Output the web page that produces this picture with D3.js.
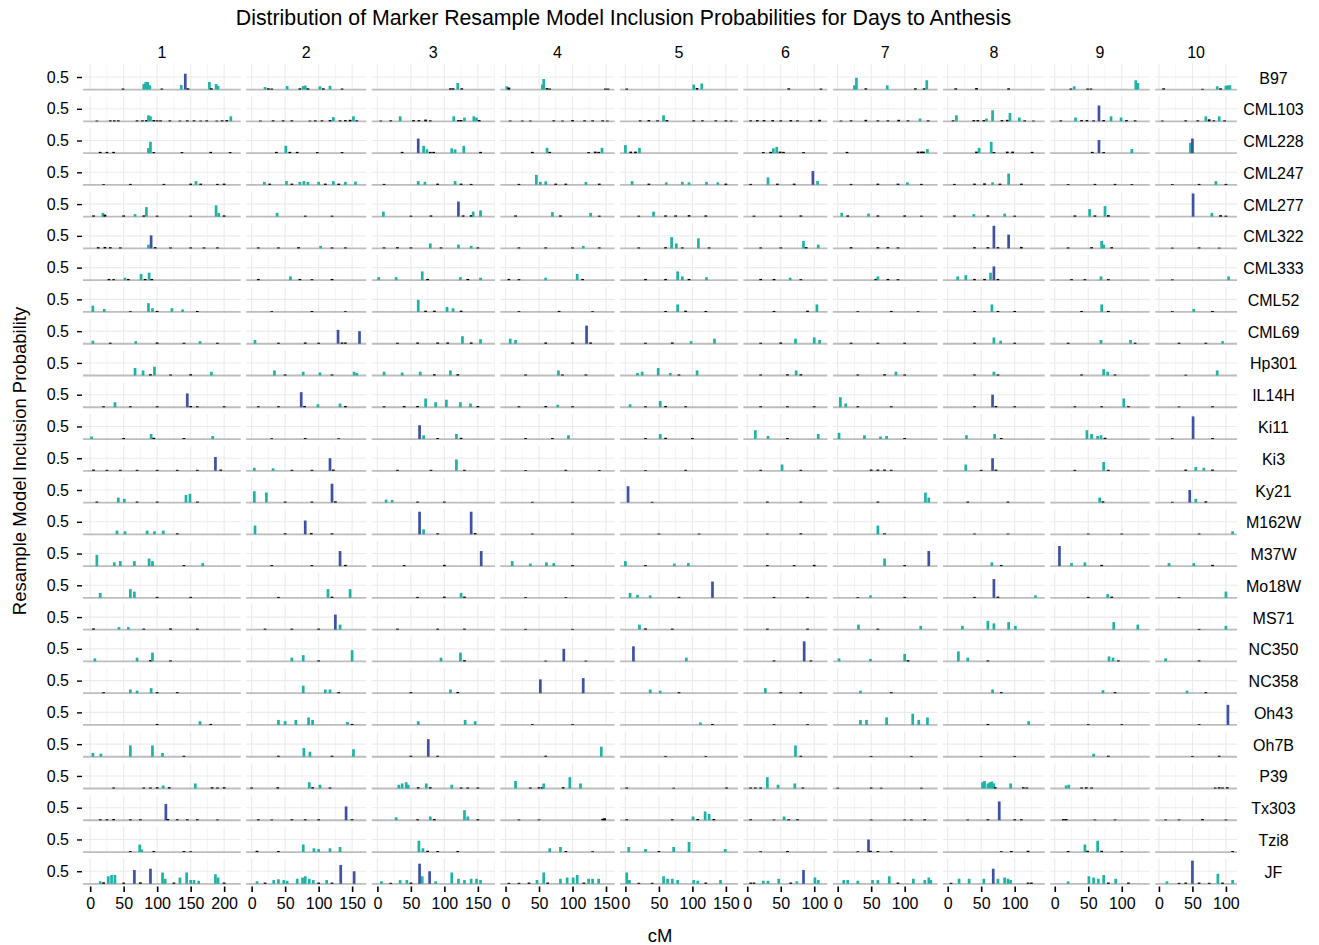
<!DOCTYPE html>
<html>
<head>
<meta charset="utf-8">
<script src="https://cdn.jsdelivr.net/npm/d3@7"></script>
<style>
  body { margin: 0; background: #fff; }
  text { font-family: "Liberation Sans", Arial, Helvetica, sans-serif; fill: #000; }
</style>
</head>
<body>
<svg id="chart" width="1319" height="945"></svg>
<script>
// Chromosomes (facet columns) and their genetic map lengths in cM
const chromosomes = ["1", "2", "3", "4", "5", "6", "7", "8", "9", "10"];
const chromosomeLengths = [214, 163, 167, 155, 160, 114, 142, 138, 135, 111];

// Founder lines (facet rows)
const founders = ["B97", "CML103", "CML228", "CML247", "CML277", "CML322", "CML333", "CML52", "CML69",
  "Hp301", "IL14H", "Ki11", "Ki3", "Ky21", "M162W", "M37W", "Mo18W", "MS71", "NC350", "NC358",
  "Oh43", "Oh7B", "P39", "Tx303", "Tzi8", "JF"];

const xTickValues = [0, 50, 100, 150, 200];
const yTickValues = [0.5];

// Resample model inclusion probability per marker: one list per chromosome of [cM, probability]
const B97 = [
  [[49,.04],[80,.22],[83,.3],[86,.3],[89,.17],[107,.04],[136,.18],[142,.63],[146,.05],[178,.3],[181,.05],[188,.22],[191,.15]],
  [[20,.1],[25,.05],[30,.04],[53,.14],[72,.05],[77,.14],[80,.16],[84,.05],[102,.13],[107,.05],[117,.15],[135,.04]],
  [[109,.05],[113,.05],[120,.26],[126,.05]],
  [[2,.13],[5,.08],[55,.2],[57,.42],[62,.06],[66,.04],[149,.04],[153,.04]],
  [[2,.04],[102,.2],[107,.06],[114,.24]],
  [[62,.05],[110,.04]],
  [[25,.17],[28,.47],[42,.05],[74,.17],[116,.05],[129,.05],[133,.37]],
  [[12,.05],[43,.06],[91,.05]],
  [[24,.04],[29,.13],[49,.04],[54,.04],[121,.37],[124,.26]],
  [[7,.05],[65,.03],[87,.13],[92,.05],[100,.15],[103,.17],[106,.17]]
];
const CML103 = [
  [[10,.03],[30,.04],[36,.04],[42,.04],[70,.04],[78,.04],[84,.05],[87,.24],[90,.2],[95,.05],[100,.04],[105,.04],[119,.04],[134,.03],[145,.04],[155,.04],[165,.03],[174,.04],[189,.03],[197,.04],[204,.05],[210,.2]],
  [[13,.03],[32,.04],[47,.04],[60,.04],[87,.03],[95,.04],[105,.04],[117,.05],[122,.17],[132,.04],[140,.05],[147,.06],[152,.2],[157,.04]],
  [[5,.03],[20,.04],[34,.2],[54,.05],[62,.05],[72,.07],[79,.04],[114,.2],[121,.05],[125,.05],[130,.15],[144,.2],[148,.15],[152,.05]],
  [[7,.03],[25,.03],[37,.03],[72,.04],[85,.03],[100,.05],[118,.04],[130,.04],[145,.04],[152,.03]],
  [[22,.04],[35,.05],[48,.04],[57,.24],[62,.05],[102,.04],[115,.04],[135,.04],[150,.04],[158,.03]],
  [[5,.04],[15,.05],[25,.05],[38,.05],[50,.04],[65,.05],[75,.04],[95,.04],[108,.06]],
  [[5,.03],[20,.04],[42,.06],[60,.04],[75,.04],[91,.06],[105,.04],[123,.11],[135,.04]],
  [[8,.04],[13,.24],[39,.05],[45,.05],[54,.05],[58,.11],[67,.44],[81,.05],[89,.06],[93,.33],[107,.15],[115,.04],[128,.03]],
  [[9,.04],[31,.15],[40,.05],[48,.05],[58,.04],[66,.63],[73,.05],[84,.2],[99,.15],[107,.05],[120,.04]],
  [[5,.03],[40,.04],[58,.04],[70,.2],[75,.08],[82,.04],[90,.2],[98,.04]]
];
const CML228 = [
  [[15,.05],[25,.05],[35,.05],[87,.2],[90,.45],[95,.04],[137,.04],[180,.05],[209,.04]],
  [[37,.05],[51,.29],[57,.05],[68,.05],[98,.04],[135,.04]],
  [[37,.05],[61,.58],[69,.29],[74,.15],[79,.05],[84,.05],[111,.19],[116,.15],[129,.29],[154,.05]],
  [[40,.05],[62,.21],[66,.05],[124,.04],[134,.06],[139,.05],[144,.21]],
  [[0,.32],[8,.06],[15,.06],[21,.21]],
  [[24,.04],[35,.05],[39,.19],[44,.25],[49,.06],[54,.05],[84,.04]],
  [[14,.05],[120,.06],[125,.06],[128,.06],[134,.16]],
  [[43,.06],[47,.21],[65,.45],[69,.04],[89,.06],[97,.06],[126,.05]],
  [[56,.05],[66,.52],[73,.04],[115,.16]],
  [[47,.41],[50,.58]]
];
const CML247 = [
  [[20,.03],[60,.04],[110,.04],[150,.05],[158,.15],[165,.05],[190,.04],[200,.05]],
  [[19,.12],[27,.05],[52,.15],[60,.05],[72,.12],[78,.15],[84,.12],[100,.12],[110,.05],[122,.15],[130,.05],[140,.12],[155,.13]],
  [[10,.04],[61,.15],[71,.12],[90,.05],[116,.15],[125,.05],[140,.04]],
  [[20,.04],[46,.4],[52,.12],[60,.14],[75,.05],[90,.05],[120,.12],[140,.05]],
  [[10,.15],[35,.05],[61,.1],[85,.12],[95,.1],[121,.12],[138,.1],[150,.05]],
  [[5,.04],[31,.3],[45,.05],[70,.05],[98,.55],[105,.15]],
  [[20,.04],[60,.05],[90,.05],[104,.1],[125,.04]],
  [[10,.04],[40,.05],[55,.06],[67,.1],[78,.05],[91,.45],[110,.05]],
  [[20,.03],[60,.04],[90,.04],[115,.03]],
  [[20,.03],[60,.04],[85,.15],[100,.04]]
];
const CML277 = [
  [[5,.05],[19,.15],[22,.08],[50,.05],[67,.1],[80,.05],[84,.38],[100,.04],[150,.04],[188,.45],[192,.15],[200,.05]],
  [[38,.15],[80,.04],[120,.04]],
  [[9,.2],[50,.04],[80,.05],[121,.6],[128,.05],[140,.06],[143,.2],[154,.25]],
  [[15,.05],[70,.18],[82,.05],[127,.15],[140,.04]],
  [[20,.04],[42,.2],[60,.05],[75,.05],[95,.06],[120,.05]],
  [[10,.04],[50,.04],[80,.05]],
  [[6,.15],[15,.05],[46,.12],[60,.05],[100,.05],[125,.04]],
  [[10,.05],[39,.1],[60,.05],[85,.12],[100,.04]],
  [[30,.05],[52,.3],[60,.05],[75,.42],[80,.06]],
  [[51,.92],[79,.15],[92,.06],[100,.04]]
];
const CML322 = [
  [[12,.05],[22,.06],[30,.05],[45,.04],[87,.15],[91,.52],[97,.05],[120,.04],[150,.04],[170,.04],[190,.04]],
  [[10,.04],[40,.04],[70,.05],[103,.1],[120,.04],[140,.04]],
  [[10,.04],[30,.05],[50,.04],[79,.2],[95,.04],[121,.15],[140,.1],[150,.04]],
  [[20,.04],[60,.04],[100,.04],[116,.1],[140,.04]],
  [[20,.04],[60,.05],[69,.45],[76,.2],[85,.04],[109,.4],[125,.04]],
  [[20,.04],[50,.04],[84,.3],[88,.05],[106,.15]],
  [[20,.05],[60,.05],[75,.05],[90,.04]],
  [[40,.05],[60,.05],[69,.9],[75,.05],[91,.55],[110,.06]],
  [[20,.04],[55,.05],[70,.3],[73,.15],[85,.05]],
  [[20,.03],[60,.04],[90,.03]]
];
const CML333 = [
  [[28,.05],[35,.04],[52,.1],[57,.05],[76,.25],[82,.05],[88,.3],[92,.05]],
  [[10,.05],[58,.15],[72,.05],[90,.04],[120,.05]],
  [[2,.12],[28,.12],[67,.35],[75,.05],[124,.12],[135,.05],[154,.1]],
  [[5,.05],[20,.04],[60,.1],[107,.25],[115,.05]],
  [[30,.05],[60,.05],[78,.35],[85,.15],[95,.05],[121,.12]],
  [[20,.05],[40,.05],[64,.1],[80,.04]],
  [[57,.05],[60,.15],[75,.05],[90,.04]],
  [[15,.15],[27,.2],[40,.05],[55,.05],[64,.3],[69,.55],[75,.05]],
  [[25,.04],[45,.04],[69,.15],[80,.04]],
  [[20,.03],[104,.15]]
];
const CML52 = [
  [[4,.25],[21,.12],[60,.03],[87,.35],[93,.15],[100,.04],[122,.15],[138,.1],[160,.04]],
  [[30,.03],[90,.04],[140,.03]],
  [[61,.48],[72,.05],[85,.05],[104,.2],[113,.15],[125,.05]],
  [[20,.03],[80,.04],[130,.03]],
  [[60,.04],[78,.3],[90,.05],[120,.04]],
  [[40,.04],[90,.05],[104,.3]],
  [[30,.03],[80,.04],[120,.03]],
  [[40,.04],[66,.3],[75,.04],[100,.04]],
  [[40,.04],[70,.3],[80,.04]],
  [[20,.03],[52,.12],[80,.04]]
];
const CML69 = [
  [[4,.12],[30,.04],[68,.1],[100,.05],[140,.04],[164,.1],[190,.04]],
  [[5,.15],[40,.04],[80,.05],[100,.04],[129,.55],[135,.05],[140,.05],[161,.5]],
  [[30,.04],[60,.05],[90,.05],[105,.05],[127,.3],[140,.05],[154,.18]],
  [[7,.2],[15,.15],[60,.05],[100,.05],[121,.72],[127,.05]],
  [[30,.04],[70,.05],[98,.1],[133,.2]],
  [[20,.04],[50,.05],[72,.2],[100,.25],[108,.15]],
  [[20,.04],[60,.04],[100,.04]],
  [[40,.04],[69,.25],[79,.12],[100,.04]],
  [[20,.04],[69,.15],[113,.15],[120,.04]],
  [[30,.04],[70,.04],[95,.1]]
];
const Hp301 = [
  [[67,.3],[79,.2],[90,.05],[96,.35],[120,.04],[150,.05],[181,.15]],
  [[34,.2],[50,.04],[77,.15],[102,.12],[120,.04],[153,.15],[157,.1]],
  [[10,.15],[37,.12],[64,.15],[85,.05],[109,.2],[120,.05]],
  [[30,.04],[79,.2],[85,.04],[120,.04]],
  [[18,.1],[25,.15],[49,.3],[67,.1],[80,.04],[107,.2]],
  [[20,.04],[60,.05],[73,.2],[80,.05]],
  [[30,.04],[70,.05],[87,.15],[100,.04]],
  [[40,.04],[69,.15],[75,.04]],
  [[40,.04],[73,.25],[79,.15],[90,.04]],
  [[40,.03],[87,.2]]
];
const IL14H = [
  [[20,.04],[37,.2],[60,.04],[100,.04],[145,.55],[150,.05],[160,.04],[200,.04]],
  [[10,.04],[40,.04],[74,.6],[79,.05],[99,.12],[132,.15],[140,.05]],
  [[10,.04],[40,.05],[60,.05],[72,.35],[87,.2],[103,.3],[124,.2],[139,.15],[150,.05]],
  [[20,.04],[60,.05],[78,.1],[100,.04]],
  [[7,.12],[30,.04],[52,.25],[60,.05],[90,.04]],
  [[20,.04],[60,.04],[100,.04]],
  [[4,.4],[12,.15],[30,.04],[80,.04]],
  [[40,.04],[67,.5],[72,.05],[100,.04]],
  [[30,.04],[70,.04],[103,.35],[110,.04]],
  [[30,.03],[80,.04]]
];
const Ki11 = [
  [[2,.1],[50,.04],[91,.2],[95,.05],[140,.04],[183,.12]],
  [[30,.03],[80,.04],[130,.03]],
  [[63,.55],[69,.15],[90,.04],[118,.2],[125,.05]],
  [[30,.04],[70,.04],[94,.15]],
  [[30,.04],[52,.2],[60,.05],[100,.04]],
  [[12,.35],[31,.12],[60,.04],[106,.2]],
  [[2,.25],[40,.15],[64,.1],[73,.12],[100,.04]],
  [[28,.15],[70,.2],[80,.04]],
  [[48,.35],[55,.2],[64,.12],[69,.15],[75,.05]],
  [[20,.03],[51,.9],[80,.04]]
];
const Ki3 = [
  [[5,.05],[25,.04],[45,.04],[70,.04],[100,.04],[130,.04],[160,.04],[187,.55],[195,.05]],
  [[4,.12],[32,.1],[60,.04],[90,.04],[117,.5],[122,.05]],
  [[30,.04],[80,.04],[118,.45],[130,.04]],
  [[30,.03],[90,.04],[140,.03]],
  [[30,.03],[90,.04]],
  [[20,.04],[52,.25],[80,.04]],
  [[50,.05],[60,.05],[70,.05],[80,.04]],
  [[27,.25],[50,.04],[67,.5],[72,.05]],
  [[30,.04],[73,.35],[80,.04]],
  [[40,.05],[55,.15],[67,.12],[80,.05]]
];
const Ky21 = [
  [[10,.04],[42,.2],[51,.15],[70,.04],[100,.04],[143,.3],[149,.35],[160,.04]],
  [[4,.45],[22,.4],[50,.04],[90,.04],[120,.75],[125,.05]],
  [[13,.12],[22,.1],[60,.04],[100,.04]],
  [[40,.03],[100,.03]],
  [[4,.65],[40,.03]],
  [[30,.04],[80,.04]],
  [[60,.04],[131,.4],[136,.2]],
  [[30,.04],[90,.04]],
  [[67,.2],[72,.05]],
  [[20,.03],[46,.5],[55,.15],[70,.05]]
];
const M162W = [
  [[40,.15],[52,.12],[85,.15],[96,.12],[109,.15],[130,.04]],
  [[5,.35],[50,.04],[80,.55],[89,.05],[120,.04]],
  [[63,.9],[69,.2],[90,.04],[140,.9],[146,.05]],
  [[40,.03],[100,.03]],
  [[50,.03],[110,.03]],
  [[30,.03],[80,.04]],
  [[60,.35],[70,.04]],
  [[40,.03],[90,.03]],
  [[50,.03],[100,.03]],
  [[60,.03],[110,.12]]
];
const M37W = [
  [[10,.45],[36,.15],[45,.2],[66,.2],[88,.3],[93,.2],[140,.04],[168,.12]],
  [[30,.04],[90,.04],[132,.6],[140,.05]],
  [[40,.04],[100,.05],[155,.6]],
  [[10,.2],[37,.1],[61,.15],[72,.12],[100,.04]],
  [[0,.2],[30,.04],[73,.1],[94,.12]],
  [[30,.04],[70,.04],[100,.05]],
  [[70,.3],[100,.04],[136,.6]],
  [[66,.15],[80,.04]],
  [[7,.8],[25,.12],[45,.15],[70,.05]],
  [[15,.12],[52,.12],[80,.05]]
];
const Mo18W = [
  [[15,.2],[60,.35],[66,.25],[100,.04],[150,.04]],
  [[40,.04],[114,.35],[120,.05],[147,.35]],
  [[60,.04],[100,.05],[125,.2],[130,.05]],
  [[30,.03],[90,.03]],
  [[7,.2],[18,.12],[37,.1],[80,.04],[130,.65]],
  [[40,.04],[90,.04]],
  [[30,.03],[49,.1],[100,.04]],
  [[40,.04],[69,.75],[75,.05],[131,.1]],
  [[50,.04],[79,.15],[85,.05]],
  [[30,.03],[100,.25]]
];
const MS71 = [
  [[5,.05],[43,.1],[57,.1],[80,.04],[120,.05],[160,.04]],
  [[20,.04],[60,.04],[100,.04],[125,.6],[132,.2]],
  [[30,.04],[90,.04],[130,.04]],
  [[30,.03],[100,.03]],
  [[21,.2],[30,.05],[70,.04]],
  [[30,.04],[90,.04]],
  [[31,.2],[60,.04],[124,.15]],
  [[22,.15],[60,.35],[69,.25],[91,.3],[101,.15]],
  [[88,.3],[124,.2]],
  [[60,.03],[100,.15]]
];
const NC350 = [
  [[7,.12],[70,.15],[90,.05],[93,.35],[120,.04]],
  [[60,.15],[77,.25],[100,.04],[150,.45]],
  [[95,.15],[124,.35],[130,.05]],
  [[60,.03],[87,.5],[120,.03]],
  [[12,.6],[91,.15]],
  [[40,.04],[85,.8],[95,.04]],
  [[2,.12],[49,.1],[100,.3],[105,.05]],
  [[16,.4],[30,.15],[60,.04]],
  [[81,.2],[87,.15],[95,.04]],
  [[10,.12],[60,.04]]
];
const NC358 = [
  [[20,.04],[60,.15],[70,.1],[91,.2],[100,.04],[130,.04]],
  [[77,.3],[110,.15],[117,.15],[130,.04]],
  [[50,.04],[109,.15],[120,.05]],
  [[52,.55],[116,.6]],
  [[37,.15],[52,.1],[80,.04]],
  [[27,.2],[50,.04],[80,.04]],
  [[34,.1],[80,.04]],
  [[67,.15],[80,.04]],
  [[72,.12],[90,.04]],
  [[42,.1],[70,.04]]
];
const Oh43 = [
  [[100,.04],[164,.15],[180,.04]],
  [[40,.2],[50,.15],[66,.2],[85,.3],[91,.2],[143,.12],[150,.04]],
  [[61,.15],[131,.2],[146,.15]],
  [[40,.03],[100,.03]],
  [[112,.1],[130,.04]],
  [[40,.03],[90,.03]],
  [[34,.2],[43,.2],[73,.3],[112,.45],[121,.2],[134,.3]],
  [[60,.04],[121,.15]],
  [[50,.03],[100,.03]],
  [[60,.03],[103,.8]]
];
const Oh7B = [
  [[4,.15],[16,.12],[60,.45],[93,.45],[108,.15],[140,.04]],
  [[40,.04],[78,.35],[87,.2],[120,.04],[152,.3]],
  [[50,.04],[76,.7],[90,.04]],
  [[60,.04],[143,.4]],
  [[60,.03],[120,.03]],
  [[72,.45],[80,.04]],
  [[50,.03],[110,.03]],
  [[50,.03],[100,.03]],
  [[58,.12],[80,.04]],
  [[50,.03],[90,.04]]
];
const P39 = [
  [[35,.04],[80,.04],[90,.04],[100,.05],[109,.12],[118,.05],[157,.2],[182,.05],[190,.04],[200,.05]],
  [[0,.04],[39,.05],[86,.25],[91,.05],[102,.15],[117,.04]],
  [[32,.15],[37,.2],[43,.25],[46,.15],[61,.05],[73,.2],[79,.05],[111,.15],[125,.04],[135,.04],[150,.04]],
  [[15,.3],[37,.04],[50,.05],[55,.05],[57,.2],[86,.05],[96,.45],[112,.2]],
  [[2,.04],[72,.03],[151,.04]],
  [[5,.04],[12,.04],[20,.04],[30,.45],[46,.15],[71,.2],[83,.04]],
  [[0,.03],[50,.04],[65,.03],[125,.03]],
  [[52,.25],[55,.3],[60,.2],[63,.25],[66,.28],[69,.2],[71,.05],[94,.2],[113,.05],[118,.04]],
  [[17,.12],[21,.15],[40,.04],[47,.05],[55,.04]],
  [[84,.04],[90,.05],[95,.04],[102,.05]]
];
const Tx303 = [
  [[15,.04],[25,.04],[35,.05],[60,.04],[75,.04],[113,.65],[116,.05],[130,.04],[145,.04],[160,.04],[190,.03]],
  [[10,.04],[30,.03],[60,.04],[80,.04],[100,.04],[141,.55],[150,.04]],
  [[28,.12],[60,.04],[79,.15],[85,.05],[130,.4],[135,.15],[150,.04]],
  [[20,.03],[50,.03],[145,.06],[148,.08]],
  [[2,.04],[70,.04],[101,.15],[108,.05],[119,.35],[125,.25],[132,.05]],
  [[5,.04],[40,.03],[55,.15],[62,.04],[75,.04]],
  [[50,.03],[100,.03],[110,.03],[130,.04]],
  [[30,.03],[60,.04],[77,.75],[100,.04],[110,.04]],
  [[13,.05],[17,.05],[60,.03],[90,.03]],
  [[10,.03],[30,.03],[65,.05],[100,.03]]
];
const Tzi8 = [
  [[60,.04],[74,.3],[77,.1],[95,.04],[140,.04],[150,.03]],
  [[8,.05],[40,.04],[77,.3],[93,.15],[100,.12],[117,.15],[132,.2]],
  [[62,.45],[68,.15],[75,.05],[90,.04],[120,.04]],
  [[66,.15],[82,.2],[90,.04],[130,.03]],
  [[5,.2],[30,.12],[50,.04],[72,.2],[95,.4],[149,.12]],
  [[20,.03],[60,.04]],
  [[30,.03],[46,.5],[49,.05],[60,.04],[80,.03]],
  [[80,.03],[95,.04],[120,.05]],
  [[20,.04],[45,.3],[49,.05],[64,.45],[70,.05],[100,.03]],
  [[110,.04]]
];
const JF = [
  [[15,.1],[20,.06],[27,.3],[32,.35],[37,.35],[50,.05],[66,.55],[75,.06],[90,.6],[108,.45],[112,.2],[125,.05],[134,.25],[144,.45],[150,.15],[155,.15],[162,.12],[187,.38],[191,.25],[200,.05]],
  [[8,.1],[20,.05],[33,.15],[40,.18],[48,.15],[53,.12],[68,.2],[76,.25],[80,.3],[86,.2],[92,.15],[100,.05],[112,.15],[120,.05],[133,.75],[153,.5]],
  [[6,.1],[20,.04],[34,.15],[44,.15],[50,.05],[63,.8],[67,.3],[78,.5],[87,.1],[111,.45],[121,.2],[130,.15],[140,.2],[148,.2],[154,.15]],
  [[5,.04],[20,.04],[35,.05],[47,.15],[57,.45],[63,.05],[82,.2],[92,.25],[101,.25],[107,.35],[117,.05],[124,.2],[130,.2],[139,.2]],
  [[2,.45],[6,.15],[20,.04],[40,.04],[57,.3],[63,.2],[70,.2],[78,.15],[102,.15],[108,.12],[120,.05],[142,.15]],
  [[5,.05],[10,.05],[24,.12],[31,.12],[47,.2],[65,.05],[74,.1],[84,.55],[101,.25],[106,.15]],
  [[9,.15],[15,.15],[30,.12],[52,.15],[60,.15],[77,.3],[90,.05],[113,.2],[130,.15],[136,.25],[139,.15]],
  [[5,.04],[17,.2],[32,.2],[54,.2],[68,.6],[75,.2],[85,.25],[90,.2],[94,.15],[120,.05],[125,.05]],
  [[20,.1],[51,.3],[58,.25],[65,.2],[73,.35],[80,.05],[91,.2],[110,.05]],
  [[12,.1],[30,.04],[40,.05],[50,.92],[60,.05],[75,.04],[88,.4],[95,.05],[110,.15]]
];

const probabilityTable = { B97, CML103, CML228, CML247, CML277, CML322, CML333, CML52, CML69, Hp301,
  IL14H, Ki11, Ki3, Ky21, M162W, M37W, Mo18W, MS71, NC350, NC358, Oh43, Oh7B, P39, Tx303, Tzi8, JF };

// ---- layout ----
const panelLeft = 83, panelRight = 1237, panelTop = 64.5, panelBottom = 885;
const gap = 5.5, expand = 0.05;
const barWidth = 2.7;

const colour = p => p >= 0.5 ? "#3f51a5" : (p >= 0.1 ? "#1fb3a6" : "#000000");

const svg = d3.select("#chart");

// Column scales (free x, equal cM per pixel across columns)
const spans = chromosomeLengths.map(L => L * (1 + 2 * expand));
const pxPerCM = (panelRight - panelLeft - gap * (chromosomes.length - 1)) / d3.sum(spans);
let cursor = panelLeft;
const xScales = chromosomeLengths.map((L, i) => {
  const w = spans[i] * pxPerCM;
  const s = d3.scaleLinear().domain([-expand * L, L * (1 + expand)]).range([cursor, cursor + w]);
  cursor += w + gap;
  return s;
});

// Row scales
const rowH = (panelBottom - panelTop - gap * (founders.length - 1)) / founders.length;
const yMax = 0.95;
const yScales = founders.map((f, r) => {
  const top = panelTop + r * (rowH + gap);
  return d3.scaleLinear().domain([-expand * yMax, yMax * (1 + expand)]).range([top + rowH, top]);
});

// Title
svg.append("text").attr("x", 623.5).attr("y", 25).attr("text-anchor", "middle")
  .style("font-size", "21.3px")
  .text("Distribution of Marker Resample Model Inclusion Probabilities for Days to Anthesis");

// Column strips
chromosomes.forEach((c, i) => {
  const [a, b] = xScales[i].range();
  svg.append("text").attr("x", (a + b) / 2).attr("y", 57.5).attr("text-anchor", "middle")
    .style("font-size", "16px").text(c);
});

// Panels
founders.forEach((f, r) => {
  const y = yScales[r];
  const [yb, yt] = y.range();
  chromosomes.forEach((c, i) => {
    const x = xScales[i];
    const [x0, x1] = x.range();
    const maxCM = x.domain()[1];
    const g = svg.append("g");
    // grid
    const majors = xTickValues.filter(t => t <= maxCM);
    const minors = xTickValues.map(t => t + 25).filter(t => t <= maxCM);
    g.selectAll("line.minor").data(minors).join("line")
      .attr("x1", d => x(d)).attr("x2", d => x(d)).attr("y1", yt).attr("y2", yb)
      .attr("stroke", "#ededed").attr("stroke-width", 0.6);
    g.selectAll("line.major").data(majors).join("line")
      .attr("x1", d => x(d)).attr("x2", d => x(d)).attr("y1", yt).attr("y2", yb)
      .attr("stroke", "#ebebeb").attr("stroke-width", 1.1);
    g.selectAll("line.hgrid").data(yTickValues).join("line")
      .attr("x1", x0).attr("x2", x1).attr("y1", d => y(d)).attr("y2", d => y(d))
      .attr("stroke", "#ebebeb").attr("stroke-width", 1.1);
    // zero line
    g.append("line").attr("x1", x0).attr("x2", x1).attr("y1", y(0)).attr("y2", y(0))
      .attr("stroke", "#bdbdbd").attr("stroke-width", 1.8);
    // bars
    const pts = probabilityTable[f][i];
    g.selectAll("rect").data(pts).join("rect")
      .attr("x", d => x(d[0]) - barWidth / 2)
      .attr("width", barWidth)
      .attr("y", d => y(d[1]))
      .attr("height", d => y(0) - y(d[1]))
      .attr("fill", d => colour(d[1]));
  });

  // y axis
  const ay = svg.append("g").attr("transform", `translate(${panelLeft - 1},0)`)
    .call(d3.axisLeft(y).tickValues(yTickValues).tickFormat(d3.format(".1f")).tickSize(5).tickPadding(8));
  ay.select(".domain").remove();
  ay.selectAll(".tick line").attr("stroke", "#000").attr("stroke-width", 1.4);
  ay.selectAll(".tick text").style("font-size", "16px").attr("fill", "#000");

  // row strip
  svg.append("text").attr("x", 1273.5).attr("y", (yb + yt) / 2 + 5.9).attr("text-anchor", "middle")
    .style("font-size", "16px").text(f);
});

// x axes under the bottom row
xScales.forEach((x, i) => {
  const maxCM = x.domain()[1];
  const ax = svg.append("g").attr("transform", `translate(0,${panelBottom + 1.5})`)
    .call(d3.axisBottom(x).tickValues(xTickValues.filter(t => t <= maxCM)).tickSize(5.5).tickPadding(6));
  ax.select(".domain").remove();
  ax.selectAll(".tick line").attr("stroke", "#000").attr("stroke-width", 1.6);
  ax.selectAll(".tick text").style("font-size", "16px").attr("fill", "#000");
});

// axis titles
svg.append("text").attr("x", (panelLeft + panelRight) / 2).attr("y", 942).attr("text-anchor", "middle")
  .style("font-size", "18.5px").text("cM");
svg.append("text").attr("transform", "translate(26,461) rotate(-90)").attr("text-anchor", "middle")
  .style("font-size", "18.5px").text("Resample Model Inclusion Probability");
</script>
</body>
</html>
